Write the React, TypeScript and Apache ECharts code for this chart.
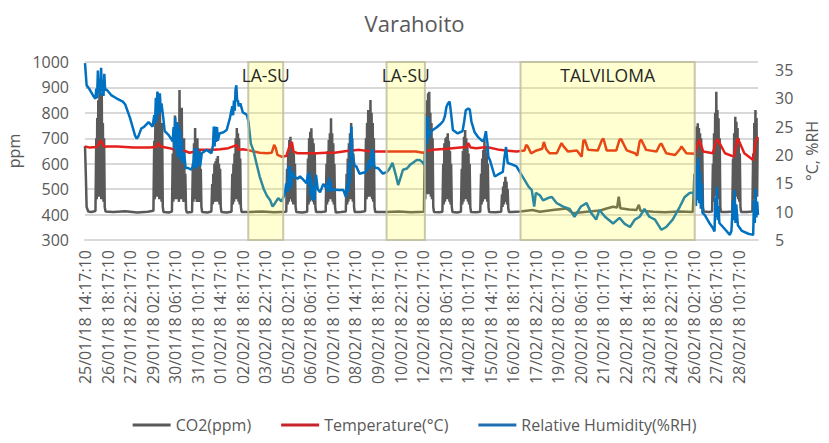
import React, { useEffect, useRef } from 'react';
import * as echarts from 'echarts';

// Hours since 25/01/18 14:17:10; one axis label every 28 h
const xTickLabels = [
  '25/01/18 14:17:10', '26/01/18 18:17:10', '27/01/18 22:17:10', '29/01/18 02:17:10',
  '30/01/18 06:17:10', '31/01/18 10:17:10', '01/02/18 14:17:10', '02/02/18 18:17:10',
  '03/02/18 22:17:10', '05/02/18 02:17:10', '06/02/18 06:17:10', '07/02/18 10:17:10',
  '08/02/18 14:17:10', '09/02/18 18:17:10', '10/02/18 22:17:10', '12/02/18 02:17:10',
  '13/02/18 06:17:10', '14/02/18 10:17:10', '15/02/18 14:17:10', '16/02/18 18:17:10',
  '17/02/18 22:17:10', '19/02/18 02:17:10', '20/02/18 06:17:10', '21/02/18 10:17:10',
  '22/02/18 14:17:10', '23/02/18 18:17:10', '24/02/18 22:17:10', '26/02/18 02:17:10',
  '27/02/18 06:17:10', '28/02/18 10:17:10',
];

const co2Data: [number, number][] = [
  [0, 670], [1, 560], [2, 430], [4, 412], [8, 410], [13, 414],
  [14, 700], [14.6, 460], [15.2, 780], [15.8, 470], [16.5, 850], [17.2, 480], [18, 900], [18.7, 470], [19.4, 820], [20.1, 460], [20.8, 880], [21.5, 500], [22.2, 760], [23, 450], [23.7, 700], [24.5, 430], [25.5, 412],
  [35, 410], [50, 413], [65, 408], [78, 411], [85, 415],
  [86, 690], [86.7, 460], [87.4, 760], [88.1, 470], [88.8, 820], [89.5, 480], [90.2, 880], [90.9, 470], [91.6, 740], [92.3, 460], [93, 860], [93.7, 480], [94.4, 700], [95.1, 450], [95.8, 760], [96.6, 430], [97.5, 410],
  [104, 408], [108, 412],
  [109, 640], [109.7, 450], [110.4, 700], [111.1, 460], [111.8, 790], [112.5, 480], [113.2, 640], [113.9, 460], [114.6, 760], [115.3, 470], [116, 600], [116.7, 450], [117.4, 890], [118.1, 480], [118.8, 700], [119.5, 460], [120.2, 820], [120.9, 470], [121.6, 600], [122.3, 450], [123, 700], [123.8, 460], [124.6, 560], [125.5, 420], [126.5, 408],
  [133, 410],
  [134, 600], [134.7, 450], [135.4, 680], [136.1, 460], [136.8, 740], [137.5, 470], [138.2, 600], [138.9, 450], [139.6, 700], [140.3, 460], [141, 560], [141.7, 450], [142.4, 650], [143.1, 460], [143.8, 580], [144.6, 430], [145.5, 410],
  [152, 408], [157, 412],
  [158, 520], [158.7, 440], [159.4, 560], [160.1, 450], [160.8, 600], [161.5, 460], [162.2, 610], [162.9, 450], [163.6, 620], [164.3, 460], [165, 630], [165.7, 450], [166.4, 600], [167.1, 440], [167.8, 580], [168.6, 430], [169.5, 410],
  [176, 408], [182, 411],
  [183, 560], [183.7, 440], [184.4, 600], [185.1, 450], [185.8, 640], [186.5, 460], [187.2, 700], [187.9, 470], [188.6, 740], [189.3, 460], [190, 720], [190.7, 450], [191.4, 700], [192.1, 440], [192.8, 620], [193.6, 430], [194.5, 410],
  [205, 410], [220, 412], [235, 409], [250, 411],
  [251, 580], [251.7, 440], [252.4, 640], [253.1, 450], [253.8, 693], [254.5, 460], [255.2, 706], [255.9, 470], [256.6, 680], [257.3, 450], [258, 660], [258.7, 440], [259.4, 640], [260.1, 440], [260.8, 600], [261.6, 430], [262.5, 410],
  [270, 408], [276, 411],
  [277, 620], [277.7, 440], [278.4, 700], [279.1, 450], [279.8, 726], [280.5, 460], [281.2, 739], [281.9, 470], [282.6, 700], [283.3, 450], [284, 680], [284.7, 440], [285.4, 640], [286.2, 430], [287, 410],
  [294, 410], [299, 412],
  [300, 600], [300.7, 440], [301.4, 650], [302.1, 450], [302.8, 693], [303.5, 460], [304.2, 720], [304.9, 470], [305.6, 779], [306.3, 460], [307, 720], [307.7, 450], [308.4, 680], [309.1, 440], [309.8, 600], [310.6, 430], [311.5, 408],
  [318, 410], [324, 412],
  [325, 560], [325.7, 440], [326.4, 620], [327.1, 450], [327.8, 680], [328.5, 460], [329.2, 720], [329.9, 470], [330.6, 760], [331.3, 460], [332, 700], [332.7, 450], [333.4, 640], [334.2, 430], [335, 410],
  [342, 410], [348, 413],
  [349, 700], [349.7, 460], [350.4, 760], [351.1, 470], [351.8, 811], [352.5, 480], [353.2, 792], [353.9, 470], [354.6, 851], [355.3, 480], [356, 800], [356.7, 460], [357.4, 760], [358.1, 450], [358.8, 700], [359.6, 430], [360.5, 410],
  [375, 410], [390, 412], [405, 409], [421, 411],
  [422, 640], [422.7, 460], [423.4, 798], [424.1, 480], [424.8, 850], [425.5, 490], [426.2, 877], [426.9, 480], [427.6, 883], [428.3, 490], [429, 800], [429.7, 470], [430.4, 760], [431.1, 460], [431.8, 700], [432.6, 430], [433.5, 410],
  [440, 409], [444, 411],
  [445, 600], [445.7, 440], [446.4, 680], [447.1, 450], [447.8, 700], [448.5, 460], [449.2, 706], [449.9, 470], [450.6, 720], [451.3, 460], [452, 690], [452.7, 450], [453.4, 650], [454.1, 440], [454.8, 600], [455.6, 430], [456.5, 410],
  [462, 408], [467, 411],
  [468, 580], [468.7, 440], [469.4, 650], [470.1, 450], [470.8, 706], [471.5, 460], [472.2, 733], [472.9, 470], [473.6, 700], [474.3, 460], [475, 680], [475.7, 450], [476.4, 640], [477.1, 440], [477.8, 600], [478.6, 430], [479.5, 410],
  [486, 409], [491, 411],
  [492, 560], [492.7, 440], [493.4, 620], [494.1, 450], [494.8, 654], [495.5, 460], [496.2, 693], [496.9, 470], [497.6, 670], [498.3, 460], [499, 640], [499.7, 450], [500.4, 600], [501.2, 430], [502, 410],
  [510, 409], [517, 411],
  [518, 480], [518.7, 430], [519.4, 510], [520.1, 440], [520.8, 529], [521.5, 450], [522.2, 549], [522.9, 450], [523.6, 530], [524.3, 440], [525, 500], [525.8, 425], [526.6, 410],
  [530, 410], [541, 412], [556, 418], [565, 411], [581, 418], [598, 424], [606, 405], [623, 411], [640, 416], [648, 424], [656, 431], [661, 428], [663, 470], [665, 425], [676, 420], [685, 418], [688, 438], [690, 415], [706, 411], [720, 409], [739, 412], [755, 410],
  [757, 560], [757.7, 440], [758.4, 700], [759.1, 460], [759.8, 746], [760.5, 470], [761.2, 759], [761.9, 480], [762.6, 740], [763.3, 470], [764, 720], [764.7, 460], [765.4, 700], [766.1, 450], [766.8, 650], [767.6, 430], [768.5, 412],
  [775, 410], [779, 412],
  [780, 600], [780.7, 450], [781.4, 720], [782.1, 470], [782.8, 800], [783.5, 480], [784.2, 883], [784.9, 490], [785.6, 811], [786.3, 480], [787, 779], [787.7, 460], [788.4, 700], [789.2, 430], [790, 410],
  [797, 410], [804, 412],
  [805, 620], [805.7, 450], [806.4, 720], [807.1, 470], [807.8, 785], [808.5, 480], [809.2, 765], [809.9, 470], [810.6, 740], [811.3, 460], [812, 700], [812.7, 450], [813.4, 640], [814.2, 430], [815, 410],
  [822, 410], [829, 412],
  [830, 640], [830.7, 460], [831.4, 760], [832.1, 480], [832.8, 811], [833.5, 480], [834.2, 780], [834.9, 470], [835.6, 700],
];

const temperatureData: [number, number][] = [
  [0, 21.5], [6, 21.3], [14, 21.4], [17, 21.8], [19, 22.6], [21, 22.2], [24, 21.4], [27, 21.5], [40, 21.5], [60, 21.3], [80, 21.3],
  [88, 21.4], [91, 22.1], [94, 21.5], [105, 21.2], [112, 20.9], [118, 21.0], [124, 20.7], [130, 20.4], [136, 20.6], [140, 20.9],
  [150, 20.9], [160, 20.9], [168, 21.0], [178, 21.2], [186, 21.6], [188, 21.8], [191, 20.9], [196, 21.0], [201, 20.9], [210, 20.6],
  [217, 20.4], [226, 20.3], [232, 20.4], [235, 21.8], [237, 21.2], [239, 20.0], [244, 19.7], [250, 19.8], [254, 21.5], [257, 22.3],
  [259, 20.6], [264, 20.3], [275, 20.3], [288, 20.3], [300, 20.4], [310, 20.4], [325, 20.7], [341, 20.9], [355, 20.6], [370, 20.6],
  [390, 20.6], [411, 20.6], [420, 20.4], [428, 20.8], [432, 20.9], [450, 21.1], [466, 21.3], [474, 21.4], [476, 22.1], [479, 21.3],
  [486, 21.2], [499, 21.4], [515, 20.9], [536, 20.6],
  [541, 20.7], [546, 20.8], [548, 21.8], [550, 21.5], [554, 20.3], [561, 20.8], [568, 21.1], [570, 22.3], [573, 21.0], [577, 20.3],
  [586, 20.3], [592, 22.1], [594, 21.6], [600, 20.6], [611, 20.8], [617, 19.7], [619, 22.5], [621, 22.6], [625, 20.9], [637, 20.8],
  [642, 22.6], [644, 22.9], [648, 20.8], [660, 20.8], [664, 22.7], [666, 22.8], [673, 20.8], [683, 20.3], [686, 19.9], [689, 22.4],
  [691, 22.7], [697, 20.9], [710, 20.6], [714, 21.8], [716, 22.0], [722, 20.3], [733, 20.0], [739, 21.0], [741, 21.5], [747, 20.3],
  [757, 20.2], [760, 21.5], [763, 22.7], [768, 20.6], [780, 20.3], [784, 22.5], [786, 22.7], [795, 20.3], [806, 19.7], [810, 22.6],
  [811, 22.9], [819, 20.3], [830, 19.1], [833, 22.3], [834, 22.7], [836, 23.2],
];

const humidityData: [number, number][] = [
  [0, 36.2], [2, 32.3], [6, 31.5], [10, 30.5], [13, 29.9], [14, 31.7], [15, 30.0], [16, 34.9], [17, 31.0], [18, 33.3], [19, 30.5],
  [20, 35.4], [21, 31.2], [22, 32.7], [23, 30.4], [24, 34.3], [25, 31.5], [27, 31.5], [33, 30.5], [39, 30.0], [47, 29.4], [50, 28.9],
  [56, 26.5], [62, 23.5], [64, 22.9], [66, 23.2], [70, 24.7], [73, 24.9], [79, 25.8], [84, 25.0],
  [86, 27.0], [87, 25.5], [88, 30.1], [89, 26.0], [90, 31.2], [91, 27.0], [92, 30.3], [93, 30.9], [94, 27.5], [95, 29.1], [97, 26.8],
  [99, 24.2], [104, 23.5], [109, 22.4],
  [110, 24.9], [111, 21.0], [112, 26.6], [113, 20.7], [114, 25.8], [115, 19.7], [116, 25.4], [117, 19.5], [118, 24.5], [119, 19.1],
  [120, 22.8], [121, 18.6], [123, 20.5], [125, 17.7], [128, 17.7], [132, 17.4],
  [134, 18.0], [135, 19.1], [136, 21.2], [137, 17.6], [138, 20.9], [139, 17.8], [140, 21.2], [141, 18.6], [142, 20.3], [143, 18.0],
  [145, 20.3], [151, 20.9], [157, 20.3],
  [159, 21.7], [160, 25.0], [161, 21.5], [162, 25.0], [163, 22.3], [164, 24.9], [165, 22.5], [167, 23.8], [172, 24.0], [176, 24.4], [180, 26.5],
  [183, 28.6], [184, 27.0], [185, 29.6], [186, 27.8], [187, 31.5], [188, 32.3], [189, 29.5], [190, 29.6], [191, 28.6], [193, 29.1],
  [196, 27.5], [201, 27.1], [203, 25.9],
  [206, 22.0], [209, 20.9], [213, 18.5], [217, 16.2], [222, 14.0], [226, 12.8], [230, 12.0], [233, 10.9], [236, 11.5], [240, 12.4], [244, 11.8],
  [248, 13.0], [250, 15.0], [252, 13.4], [253, 18.0], [254, 14.0], [255, 18.0], [256, 14.4], [258, 17.0], [260, 16.2], [264, 15.8],
  [267, 16.2], [272, 15.5], [275, 15.0],
  [277, 16.5], [278, 14.5], [279, 17.0], [280, 13.0], [281, 16.0], [282, 12.0], [283, 14.5], [285, 12.0], [287, 16.5], [289, 14.0],
  [292, 13.4], [296, 14.9], [300, 14.1],
  [301, 15.0], [302, 13.5], [303, 16.0], [304, 13.8], [305, 15.5], [306, 13.6], [308, 13.9], [315, 13.8], [321, 13.8], [324, 12.6],
  [326, 15.0], [327, 13.5], [328, 18.6], [329, 15.0], [330, 22.0], [331, 25.0], [332, 20.0], [333, 19.7], [335, 18.0], [337, 18.0], [341, 16.7],
  [349, 17.0], [351, 18.0], [353, 19.1], [354, 17.5], [356, 20.9], [357, 18.0], [358, 21.0], [359, 18.1], [361, 17.7], [364, 17.7], [370, 16.7],
  [375, 17.0], [378, 17.5], [382, 18.6], [386, 16.5], [389, 14.7], [392, 16.0], [395, 17.4], [400, 17.6], [404, 18.3], [407, 18.6],
  [412, 19.1], [416, 19.1], [420, 18.6], [422, 18.2],
  [423, 21.7], [424, 26.8], [425, 22.0], [426, 26.8], [427, 23.0], [429, 24.0], [432, 24.4], [437, 24.9], [442, 25.5],
  [445, 26.0], [447, 26.8], [449, 28.5], [451, 29.1], [453, 29.4], [455, 27.0], [457, 24.4], [463, 23.8], [469, 24.2],
  [471, 25.9], [473, 27.9], [476, 28.2], [478, 28.0], [480, 25.9], [484, 24.0], [488, 23.2], [494, 22.4],
  [496, 22.8], [498, 24.2], [499, 23.0], [500, 22.0], [501, 19.7], [503, 19.1], [509, 16.2], [515, 16.7],
  [519, 17.0], [521, 19.5], [523, 21.4], [525, 18.6], [527, 18.5], [531, 18.3], [536, 18.0], [540, 17.0],
  [546, 15.6], [551, 14.4], [555, 13.8], [558, 10.9], [560, 13.3], [565, 12.9], [569, 12.0], [575, 12.4], [580, 12.6], [586, 11.5],
  [594, 10.9], [602, 10.5], [608, 9.1], [616, 10.9], [623, 11.5], [629, 9.7], [635, 8.6], [639, 10.3], [646, 9.1], [656, 7.9],
  [664, 8.9], [670, 7.9], [677, 7.3], [683, 8.6], [689, 9.1], [695, 10.5], [701, 9.1], [708, 8.6], [716, 6.8], [722, 7.3],
  [730, 8.6], [739, 10.9], [745, 12.6], [751, 13.3], [756, 13.4],
  [757, 12.5], [758, 16.0], [759, 11.0], [760, 18.5], [761, 12.0], [762, 19.5], [763, 11.5], [764, 17.0], [765, 10.5], [766, 15.0],
  [767, 9.8], [770, 9.4], [776, 7.9], [780, 7.1], [782, 6.5], [783, 12.5], [784, 9.0], [785, 14.4], [786, 8.5], [787, 11.0],
  [788, 8.0], [795, 6.9], [801, 5.9], [803, 6.6], [805, 12.0], [806, 8.5], [807, 13.8], [808, 8.0], [809, 11.3], [811, 7.6],
  [816, 6.6], [824, 6.1], [830, 5.9], [831, 12.0], [832, 8.0], [833, 14.1], [834, 9.0], [835, 11.8], [836, 9.4],
];

const periodNames = ['LA-SU', 'LA-SU', 'TALVILOMA'];
const periodStart = [202.8, 374.6, 541];
const periodEnd = [246.2, 422.2, 757.4];

const seriesNames = ['CO2(ppm)', 'Temperature(°C)', 'Relative Humidity(%RH)'];
const FONT = 'Open Sans';
const TXT = '#595959';

export default function App() {
  const ref = useRef<HTMLDivElement>(null);
  useEffect(() => {
    document.body.style.margin = '0';
    if (!ref.current) return;
    const chart = echarts.init(ref.current, undefined, { renderer: 'svg' });
    chart.setOption({
      animation: false,
      backgroundColor: '#ffffff',
      title: {
        text: 'Varahoito', left: 'center', top: 7,
        textStyle: { fontFamily: FONT, fontSize: 22, fontWeight: 'normal', color: TXT },
      },
      grid: { left: 85, right: 71, top: 62, bottom: 203, containLabel: false, outerBoundsMode: 'none' },
      legend: {
        data: seriesNames, top: 412, left: 'center', icon: 'rect', itemWidth: 38, itemHeight: 3, itemGap: 30,
        textStyle: { fontFamily: FONT, fontSize: 16, color: TXT },
      },
      xAxis: {
        type: 'value', min: 0, max: 836, interval: 28,
        axisLine: { show: true, onZero: false, lineStyle: { color: '#D9D9D9', width: 2 } },
        axisTick: { show: false }, splitLine: { show: false },
        axisLabel: {
          rotate: 90, margin: 10, fontFamily: FONT, fontSize: 16, color: TXT, showMaxLabel: false,
          formatter: (v: number) => {
            const i = Math.round(v / 28);
            return Math.abs(v - i * 28) < 1e-6 && i < xTickLabels.length ? xTickLabels[i] : '';
          },
        },
      },
      yAxis: [
        {
          type: 'value', min: 300, max: 1000, interval: 100, name: 'ppm', nameLocation: 'middle', nameRotate: 90, nameGap: 60,
          nameTextStyle: { fontFamily: FONT, fontSize: 16, color: TXT },
          axisLine: { show: false }, axisTick: { show: false },
          axisLabel: { margin: 16, fontFamily: FONT, fontSize: 16, color: TXT, formatter: (v: number) => String(v) },
          splitLine: { lineStyle: { color: '#D9D9D9', width: 2 } },
        },
        {
          type: 'value', position: 'right', min: 5, max: 36.4, interval: 5, name: '°C, %RH', nameLocation: 'middle', nameRotate: 90, nameGap: 44,
          nameTextStyle: { fontFamily: FONT, fontSize: 16, color: TXT },
          axisLine: { show: false }, axisTick: { show: false }, splitLine: { show: false },
          axisLabel: { margin: 17, fontFamily: FONT, fontSize: 16, color: TXT, showMaxLabel: false, formatter: (v: number) => String(v) },
        },
      ],
      series: [
        {
          name: seriesNames[0], type: 'line', yAxisIndex: 0, data: co2Data, showSymbol: false, symbol: 'none',
          lineStyle: { color: '#595959', width: 2.5 }, itemStyle: { color: '#595959' },
        },
        {
          name: seriesNames[1], type: 'line', yAxisIndex: 1, data: temperatureData, showSymbol: false, symbol: 'none',
          lineStyle: { color: '#E3201B', width: 2.5 }, itemStyle: { color: '#C8242B' },
        },
        {
          name: seriesNames[2], type: 'line', yAxisIndex: 1, data: humidityData, showSymbol: false, symbol: 'none',
          lineStyle: { color: '#0070C0', width: 2.5 }, itemStyle: { color: '#1F6FB2' },
        },
        {
          name: 'periods', type: 'custom', z: 5, silent: true, yAxisIndex: 0,
          encode: { x: [0, 1] },
          data: periodStart.map((s, i) => [s, periodEnd[i]]),
          renderItem: (params: any, api: any) => {
            const a = api.coord([api.value(0), 1000]);
            const b = api.coord([api.value(1), 300]);
            return {
              type: 'group',
              children: [
                {
                  type: 'rect',
                  shape: { x: a[0], y: a[1], width: b[0] - a[0], height: b[1] - a[1] },
                  style: { fill: 'rgba(255,255,0,0.18)', stroke: 'rgba(190,190,160,0.85)', lineWidth: 2 },
                },
                {
                  type: 'text', x: (a[0] + b[0]) / 2, y: a[1] + 4,
                  style: {
                    text: periodNames[params.dataIndex], align: 'center', verticalAlign: 'top',
                    fontFamily: FONT, fontSize: 17.5, fill: '#262626',
                  },
                },
              ],
            };
          },
        },
      ],
    });
    return () => chart.dispose();
  }, []);
  return <div ref={ref} style={{ width: 829, height: 443 }} />;
}
